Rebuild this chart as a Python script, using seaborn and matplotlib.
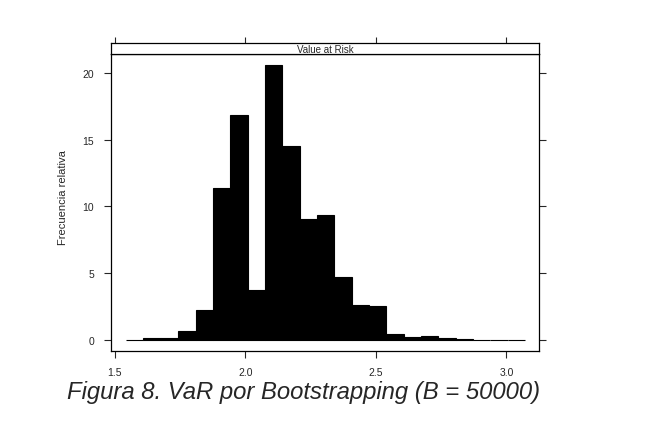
import numpy as np
import matplotlib
matplotlib.use("Agg")
import matplotlib.pyplot as plt
import seaborn as sns

sns.set_style("white")
plt.rcParams['font.family'] = ['Liberation Sans', 'DejaVu Sans']

# bootstrap VaR histogram, percent of total per bin
bin_edges = [1.544, 1.610, 1.677, 1.743, 1.810, 1.876, 1.942, 2.009, 2.075,
             2.142, 2.208, 2.274, 2.341, 2.407, 2.474, 2.540, 2.607, 2.673,
             2.739, 2.806, 2.872, 2.939, 3.005, 3.072]
pct = [0.0, 0.15, 0.15, 0.7, 2.27, 11.4, 16.8, 3.77, 20.6, 14.55, 9.08, 9.38,
       4.74, 2.64, 2.57, 0.47, 0.25, 0.32, 0.15, 0.07, 0.02, 0.0, 0.0]
x_ticks = [1.5, 2.0, 2.5, 3.0]
y_ticks = [0, 5, 10, 15, 20]
strip_text = "Value at Risk"
y_label = "Frecuencia relativa"
caption = "Figura 8. VaR por Bootstrapping (B = 50000)"

mids = [(a + b) / 2 for a, b in zip(bin_edges[:-1], bin_edges[1:])]

fig = plt.figure(figsize=(6.45, 4.35), dpi=100)
ax = fig.add_axes([0.1716, 0.1901, 0.6645, 0.6828])
strip = fig.add_axes([0.1716, 0.8729, 0.6645, 0.0253], sharex=ax)

sns.histplot(x=mids, weights=pct, bins=bin_edges, stat="count",
             color="black", edgecolor="black", linewidth=0.8, alpha=1, ax=ax)

ax.set_xlim(1.4847, 3.126)
ax.set_ylim(-0.82, 21.37)
ax.set_xticks(x_ticks)
ax.set_xticklabels([f"{v:.1f}" for v in x_ticks])
ax.set_yticks(y_ticks)
ax.set_ylabel(y_label, fontsize=8)
ax.yaxis.set_label_coords(-0.100, 0.521)
ax.set_xlabel("")
ax.tick_params(direction="out", length=5, width=0.8, labelsize=7.5,
               left=True, right=True, bottom=True, top=False,
               labelleft=True, labelright=False, pad=7)
ax.tick_params(axis="x", pad=6)
for s in ax.spines.values():
    s.set_color("black")
    s.set_linewidth(0.9)

# lattice-style strip on top
strip.set_yticks([])
strip.tick_params(direction="out", length=4, width=0.8, bottom=False,
                  top=True, labelbottom=False, labeltop=False)
for s in strip.spines.values():
    s.set_color("black")
    s.set_linewidth(0.9)
strip.text(0.5, 0.45, strip_text, transform=strip.transAxes,
           ha="center", va="center", fontsize=7)

fig.text(0.47, 0.098, caption, ha="center", va="center",
         fontsize=17.2, style="italic")

fig.savefig("out.png", dpi=100, facecolor="white")
